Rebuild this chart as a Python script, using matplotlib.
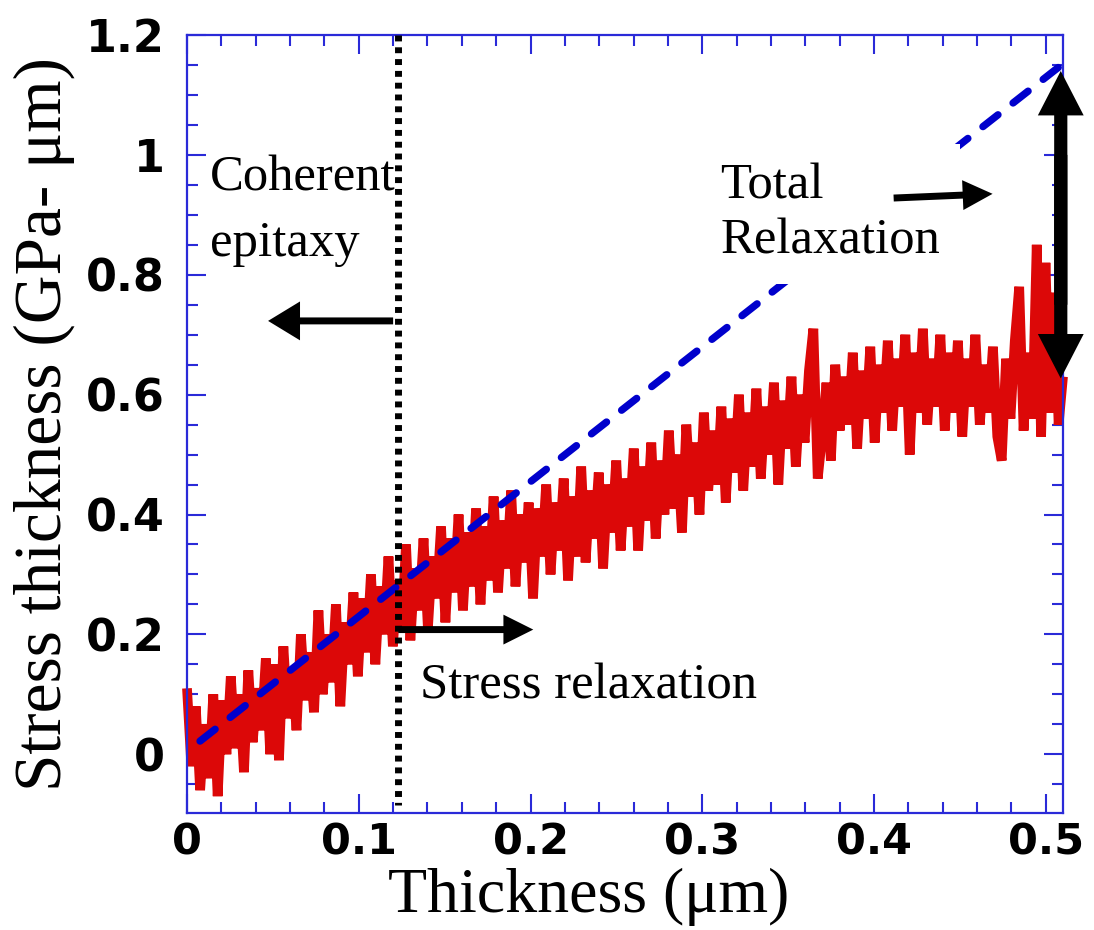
import numpy as np
import matplotlib
matplotlib.use("Agg")
import matplotlib.pyplot as plt
from matplotlib.ticker import MultipleLocator, FixedLocator, FixedFormatter
from matplotlib.patches import FancyArrowPatch

plt.rcParams['font.family'] = ['DejaVu Sans']
plt.rcParams['font.weight'] = 'bold'

# ---------------- data ----------------
stress_thickness = [
    0.11, -0.02, 0.08, -0.06, 0.05, -0.04, 0.10, -0.07, 0.09, 0.00,
    0.13, 0.01, 0.10, -0.03, 0.14, 0.02, 0.11, 0.04, 0.16, 0.00,
    0.15, -0.01, 0.18, 0.06, 0.14, 0.04, 0.20, 0.09, 0.17, 0.07,
    0.24, 0.10, 0.20, 0.12, 0.25, 0.08, 0.22, 0.15, 0.27, 0.13,
    0.26, 0.17, 0.30, 0.15, 0.28, 0.20, 0.33, 0.18, 0.29, 0.21,
    0.35, 0.19, 0.31, 0.24, 0.36, 0.21, 0.33, 0.26, 0.38, 0.22,
    0.36, 0.27, 0.40, 0.24, 0.37, 0.28, 0.41, 0.25, 0.38, 0.29,
    0.43, 0.27, 0.39, 0.31, 0.44, 0.28, 0.40, 0.32, 0.42, 0.26,
    0.41, 0.33, 0.45, 0.30, 0.42, 0.34, 0.46, 0.29, 0.43, 0.33,
    0.48, 0.32, 0.44, 0.36, 0.47, 0.31, 0.45, 0.37, 0.49, 0.34,
    0.46, 0.38, 0.51, 0.34, 0.48, 0.39, 0.52, 0.36, 0.49, 0.40,
    0.54, 0.41, 0.50, 0.37, 0.55, 0.43, 0.52, 0.40, 0.57, 0.44,
    0.54, 0.45, 0.58, 0.42, 0.56, 0.47, 0.60, 0.44, 0.57, 0.48,
    0.61, 0.46, 0.58, 0.50, 0.62, 0.45, 0.59, 0.51, 0.63, 0.48,
    0.60, 0.52, 0.64, 0.71, 0.46, 0.53, 0.62, 0.49, 0.65, 0.54,
    0.63, 0.55, 0.67, 0.51, 0.64, 0.56, 0.68, 0.52, 0.65, 0.57,
    0.69, 0.54, 0.66, 0.58, 0.70, 0.50, 0.67, 0.57, 0.71, 0.55,
    0.66, 0.58, 0.70, 0.54, 0.67, 0.57, 0.69, 0.53, 0.66, 0.58,
    0.70, 0.55, 0.65, 0.57, 0.68, 0.53, 0.49, 0.66, 0.56, 0.69,
    0.78, 0.54, 0.67, 0.56, 0.85, 0.53, 0.82, 0.57, 0.77, 0.55,
    0.63,
]
thickness = np.linspace(0.0, 0.51, len(stress_thickness))  # sampling grid

relax_thickness = [0.0076, 0.51]     # total-relaxation (coherent) line
relax_stress = [0.022, 1.152]

boundary_thickness = 0.123          # coherent / relaxation boundary
boundary_span = [1.2, -0.085]

x_ticks = [0, 0.1, 0.2, 0.3, 0.4, 0.5]
x_tick_labels = ['0', '0.1', '0.2', '0.3', '0.4', '0.5']
y_ticks = [0, 0.2, 0.4, 0.6, 0.8, 1.0, 1.2]
y_tick_labels = ['0', '0.2', '0.4', '0.6', '0.8', '1', '1.2']

# ---------------- figure ----------------
W, H = 1094, 930
fig = plt.figure(figsize=(W / 100, H / 100), dpi=100)
ax = fig.add_axes([187 / W, (H - 813) / H, (1063 - 187) / W, (813 - 35) / H])

RED = '#DC0808'
BLUE = '#0000CC'
AXBLUE = '#2a2ad8'
SERIF = 'Liberation Serif'

ax.plot(thickness, stress_thickness, color=RED, lw=7, solid_joinstyle='bevel',
        solid_capstyle='butt', zorder=2, clip_on=False)
ax.plot(relax_thickness, relax_stress, color=BLUE, lw=5.3,
        linestyle=(0, (2.6, 2.6)), dash_capstyle='round', zorder=3)
ax.plot([boundary_thickness] * 2, boundary_span, color='black', lw=5,
        linestyle=(0, (0.85, 0.85)), dash_capstyle='butt', zorder=5, clip_on=False)

ax.set_xlim(0, 0.51)
ax.set_ylim(-0.098, 1.2)

ax.xaxis.set_major_locator(FixedLocator(x_ticks))
ax.xaxis.set_major_formatter(FixedFormatter(x_tick_labels))
ax.xaxis.set_minor_locator(MultipleLocator(0.02))
ax.yaxis.set_major_locator(FixedLocator(y_ticks))
ax.yaxis.set_major_formatter(FixedFormatter(y_tick_labels))
ax.yaxis.set_minor_locator(MultipleLocator(0.05))

ax.tick_params(which='both', direction='in', top=True, right=True,
               color=AXBLUE, width=1.5, labelcolor='black')
ax.tick_params(which='major', length=14)
ax.tick_params(which='minor', length=8)
ax.tick_params(axis='x', pad=6, labelsize=31)
ax.tick_params(axis='y', pad=16, labelsize=32)
for s in ax.spines.values():
    s.set_color(AXBLUE)
    s.set_linewidth(1.6)

ax.set_xlabel('Thickness (μm)', fontfamily=SERIF, fontweight='normal',
              fontsize=46)
ax.xaxis.set_label_coords(0.458, -0.0705, transform=ax.transAxes)
ax.xaxis.label.set_va('top')
ax.set_ylabel('Stress thickness (GPa- μm)', fontfamily=SERIF,
              fontweight='normal', fontsize=48.5, labelpad=8)

tkw = dict(fontfamily=SERIF, fontweight='normal', fontsize=36.5, ha='left',
           va='baseline', color='black')
ax.text(0.0134, 0.94, 'Coherent', zorder=4, **tkw)
ax.text(0.0134, 0.832, 'epitaxy', zorder=4, **tkw)
ax.text(0.1358, 0.093, 'Stress relaxation', zorder=4, **tkw)
ax.text(0.3106, 0.835, 'Total\nRelaxation', zorder=4, linespacing=1.25,
        bbox=dict(boxstyle='square,pad=0.38', fc='white', ec='none'), **tkw)


def arrow(p0, p1, hl, hw, tw):
    ax.add_patch(FancyArrowPatch(
        p0, p1, arrowstyle=f'simple,head_length={hl},head_width={hw},tail_width={tw}',
        mutation_scale=1, shrinkA=0, shrinkB=0, color='black', lw=0,
        zorder=6, clip_on=False))


arrow((0.12, 0.723), (0.0472, 0.723), 23, 28, 5)
arrow((0.123, 0.208), (0.2016, 0.208), 21.5, 21.5, 5)
arrow((0.4114, 0.928), (0.469, 0.935), 21.5, 21.5, 5)
arrow((0.5087, 0.75), (0.5087, 1.14), 32, 33, 9.5)
arrow((0.5087, 1.0), (0.5087, 0.627), 32, 33, 9.5)

fig.savefig('out.png', dpi=100)
